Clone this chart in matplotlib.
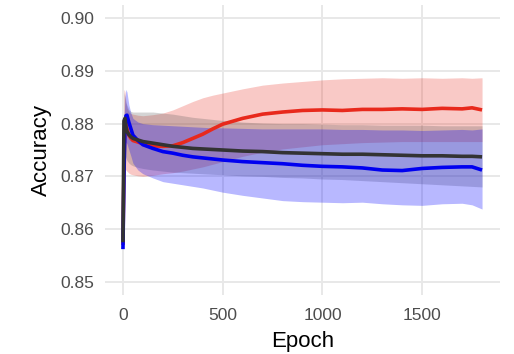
import matplotlib
matplotlib.use("Agg")
import matplotlib.pyplot as plt
import numpy as np

plt.rcParams["font.family"] = ["Liberation Sans", "DejaVu Sans"]

epoch = [0, 5, 10, 15, 20, 30, 40, 50, 75, 100, 150, 200, 250, 300, 350, 400,
         450, 500, 600, 700, 800, 900, 1000, 1100, 1200, 1300, 1400, 1500,
         1600, 1700, 1750, 1800]

# mean accuracy per model
red_mean = [0.8570, 0.8720, 0.8805, 0.8800, 0.8790, 0.8778, 0.8772, 0.8768,
            0.8765, 0.8762, 0.8758, 0.8757, 0.8758, 0.8764, 0.8772, 0.8780,
            0.8790, 0.8799, 0.8810, 0.8818, 0.8822, 0.8825, 0.8826, 0.8825,
            0.8827, 0.8827, 0.8828, 0.8827, 0.8829, 0.8828, 0.8830, 0.8826]
blue_mean = [0.8562, 0.8700, 0.8790, 0.8815, 0.8816, 0.8802, 0.8790, 0.8778,
             0.8768, 0.8760, 0.8753, 0.8747, 0.8744, 0.8740, 0.8737, 0.8735,
             0.8733, 0.8731, 0.8728, 0.8726, 0.8724, 0.8721, 0.8719, 0.8718,
             0.8716, 0.8712, 0.8711, 0.8715, 0.8717, 0.8718, 0.8718, 0.8712]
black_mean = [0.8575, 0.8805, 0.8810, 0.8795, 0.8785, 0.8779, 0.8775, 0.8772,
              0.8769, 0.8766, 0.8763, 0.8760, 0.8757, 0.8755, 0.8753, 0.8752,
              0.8751, 0.8750, 0.8748, 0.8747, 0.8745, 0.8744, 0.8743, 0.8742,
              0.8742, 0.8741, 0.8740, 0.8739, 0.8739, 0.8738, 0.8738, 0.8737]

# spread bands (upper / lower)
red_hi = [0.8575, 0.8865, 0.8860, 0.8840, 0.8830, 0.8822, 0.8819, 0.8818,
          0.8816, 0.8815, 0.8817, 0.8820, 0.8826, 0.8834, 0.8842, 0.8849,
          0.8854, 0.8858, 0.8866, 0.8873, 0.8877, 0.8880, 0.8883, 0.8885,
          0.8886, 0.8887, 0.8886, 0.8887, 0.8886, 0.8887, 0.8886, 0.8887]
red_lo = [0.8568, 0.8710, 0.8715, 0.8712, 0.8710, 0.8706, 0.8704, 0.8703,
          0.8701, 0.8700, 0.8702, 0.8705, 0.8707, 0.8710, 0.8714, 0.8718,
          0.8723, 0.8728, 0.8738, 0.8746, 0.8752, 0.8756, 0.8760, 0.8762,
          0.8764, 0.8765, 0.8766, 0.8766, 0.8766, 0.8766, 0.8766, 0.8766]
blue_hi = [0.8570, 0.8800, 0.8850, 0.8865, 0.8860, 0.8835, 0.8820, 0.8810,
           0.8803, 0.8800, 0.8798, 0.8797, 0.8796, 0.8795, 0.8794, 0.8793,
           0.8792, 0.8792, 0.8791, 0.8790, 0.8790, 0.8790, 0.8790, 0.8789,
           0.8789, 0.8788, 0.8788, 0.8787, 0.8788, 0.8789, 0.8788, 0.8790]
blue_lo = [0.8560, 0.8720, 0.8760, 0.8765, 0.8762, 0.8750, 0.8738, 0.8725,
           0.8712, 0.8705, 0.8697, 0.8690, 0.8687, 0.8684, 0.8681, 0.8678,
           0.8674, 0.8670, 0.8664, 0.8659, 0.8654, 0.8652, 0.8651, 0.8650,
           0.8651, 0.8648, 0.8646, 0.8645, 0.8648, 0.8649, 0.8646, 0.8638]
black_hi = [0.8580, 0.8860, 0.8850, 0.8840, 0.8835, 0.8826, 0.8823, 0.8822,
            0.8822, 0.8822, 0.8822, 0.8820, 0.8818, 0.8815, 0.8812, 0.8810,
            0.8808, 0.8806, 0.8803, 0.8801, 0.8800, 0.8800, 0.8799, 0.8798,
            0.8798, 0.8797, 0.8797, 0.8797, 0.8796, 0.8796, 0.8796, 0.8796]
black_lo = [0.8570, 0.8730, 0.8740, 0.8735, 0.8730, 0.8725, 0.8722, 0.8720,
            0.8717, 0.8715, 0.8712, 0.8710, 0.8708, 0.8707, 0.8706, 0.8705,
            0.8704, 0.8703, 0.8701, 0.8700, 0.8698, 0.8697, 0.8695, 0.8694,
            0.8692, 0.8690, 0.8688, 0.8686, 0.8684, 0.8682, 0.8681, 0.8680]

x_ticks = [0, 500, 1000, 1500]
y_ticks = [0.85, 0.86, 0.87, 0.88, 0.89, 0.90]
y_tick_labels = ["0.85", "0.86", "0.87", "0.88", "0.89", "0.90"]

fig = plt.figure(figsize=(5.14, 3.54), dpi=100)
ax = fig.add_axes([105 / 514, 1 - 295 / 354, 395 / 514, 290 / 354])

RED = "#E8291C"
BLUE = "#0000F0"
DARK = "#333333"

ax.fill_between(epoch, red_lo, red_hi, color=RED, alpha=0.25, lw=0)
ax.fill_between(epoch, black_lo, black_hi, color="#555555", alpha=0.25, lw=0)
ax.fill_between(epoch, blue_lo, blue_hi, color="#0000FF", alpha=0.28, lw=0)

ax.plot(epoch, red_mean, color=RED, lw=2.6, solid_capstyle="butt")
ax.plot(epoch, blue_mean, color=BLUE, lw=2.6, solid_capstyle="butt")
ax.plot(epoch, black_mean, color=DARK, lw=2.6, solid_capstyle="butt")

ax.set_xlim(-90, 1890)
ax.set_ylim(0.8475, 0.9025)
ax.set_xticks(x_ticks)
ax.set_yticks(y_ticks)
ax.set_yticklabels(y_tick_labels)
ax.grid(True, color="#E8E8E8", lw=1.4)
ax.set_axisbelow(True)
for s in ax.spines.values():
    s.set_visible(False)
ax.tick_params(length=0, labelsize=12.5, labelcolor="#4D4D4D")
ax.tick_params(axis="y", pad=8)
ax.tick_params(axis="x", pad=9)
ax.set_xlabel("Epoch", fontsize=16, labelpad=6)
ax.set_ylabel("Accuracy", fontsize=16, labelpad=6)

fig.savefig("out.png", dpi=100)
